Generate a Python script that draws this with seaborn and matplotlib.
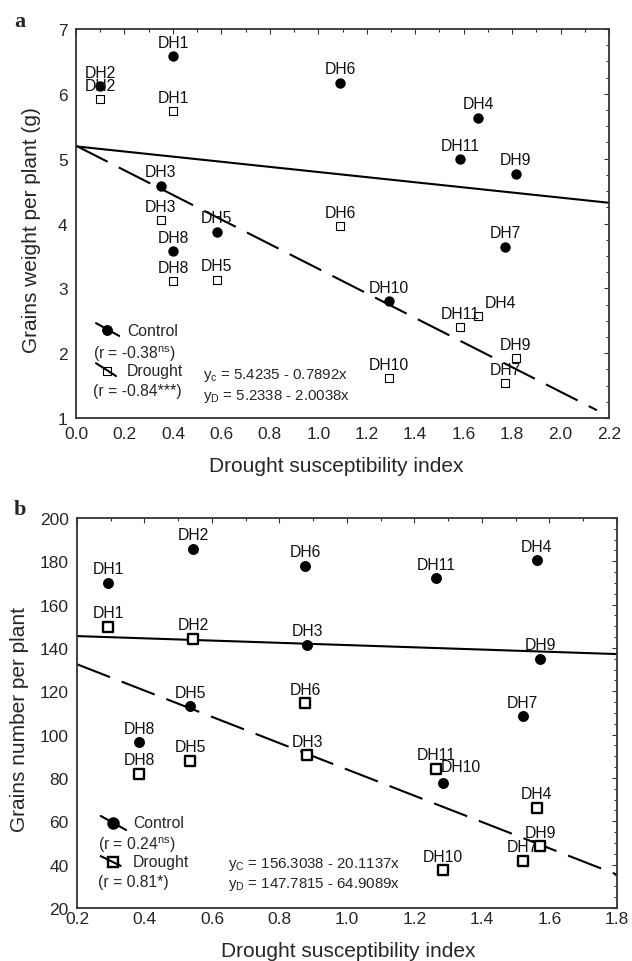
import matplotlib
matplotlib.use("Agg")
import matplotlib.pyplot as plt
from matplotlib.ticker import MultipleLocator, FormatStrFormatter
import seaborn as sns
import pandas as pd

# ---------------- data ----------------
lines_names = ["DH1", "DH2", "DH3", "DH4", "DH5", "DH6", "DH7", "DH8", "DH9", "DH10", "DH11"]

# panel a: grains weight per plant (g)
a_dsi = [0.40, 0.10, 0.35, 1.66, 0.58, 1.09, 1.77, 0.40, 1.815, 1.29, 1.585]
a_control = [6.58, 6.12, 4.58, 5.63, 3.87, 6.17, 3.64, 3.57, 4.77, 2.80, 4.99]
a_drought = [5.73, 5.92, 4.05, 2.58, 3.13, 3.96, 1.54, 3.11, 1.92, 1.61, 2.40]
a_fit_control_x = [0.0, 2.2]
a_fit_control_y = [5.19, 4.32]
a_fit_drought_x = [0.0, 2.15]
a_fit_drought_y = [5.20, 1.12]

# panel b: grains number per plant
b_dsi = [0.292, 0.544, 0.882, 1.563, 0.535, 0.876, 1.521, 0.384, 1.572, 1.284, 1.264]
b_control = [170.0, 185.7, 141.4, 180.6, 113.2, 177.9, 108.6, 96.6, 135.0, 77.7, 172.3]
b_drought = [149.7, 144.2, 90.6, 66.2, 87.9, 114.6, 41.7, 82.0, 48.6, 37.5, 84.3]
b_fit_control_x = [0.2, 1.8]
b_fit_control_y = [145.5, 137.2]
b_fit_drought_x = [0.2, 1.8]
b_fit_drought_y = [132.5, 35.4]

a_xticks = [0.0, 0.2, 0.4, 0.6, 0.8, 1.0, 1.2, 1.4, 1.6, 1.8, 2.0, 2.2]
a_yticks = [1, 2, 3, 4, 5, 6, 7]
b_xticks = [0.2, 0.4, 0.6, 0.8, 1.0, 1.2, 1.4, 1.6, 1.8]
b_yticks = [20, 40, 60, 80, 100, 120, 140, 160, 180, 200]

# ---------------- style ----------------
sns.set_style("white")
plt.rcParams["font.family"] = ["Liberation Sans", "DejaVu Sans"]
plt.rcParams["mathtext.fontset"] = "custom"
plt.rcParams["mathtext.rm"] = "Liberation Sans"
plt.rcParams["mathtext.it"] = "Liberation Sans"
plt.rcParams["mathtext.default"] = "regular"

fig = plt.figure(figsize=(6.32, 9.62), dpi=100)
ax1 = fig.add_axes([0.1203, 0.5644, 0.8434, 0.4044])
ax2 = fig.add_axes([0.1218, 0.0551, 0.8544, 0.4054])

PX = 72 / 100.0  # points per pixel


def draw_panel(ax, dsi, ctrl, drt, fcx, fcy, fdx, fdy, circ_s, sq_s, sq_lw,
               special_ctrl, special_drt):
    df = pd.DataFrame({"name": lines_names, "dsi": dsi, "control": ctrl, "drought": drt})
    sns.lineplot(x=fcx, y=fcy, ax=ax, color="black", lw=1.5, zorder=2)
    sns.lineplot(x=fdx, y=fdy, ax=ax, color="black", lw=1.5, zorder=2,
                 linestyle=(0, (17, 6)))
    sns.scatterplot(data=df, x="dsi", y="control", ax=ax, marker="o", s=circ_s,
                    color="black", edgecolor="black", linewidth=0, zorder=3)
    sns.scatterplot(data=df, x="dsi", y="drought", ax=ax, marker="s", s=sq_s,
                    color="white", edgecolor="black", linewidth=sq_lw, zorder=3)
    for _, r in df.iterrows():
        off = special_ctrl.get(r["name"], (0, 14))
        ax.annotate(r["name"], (r["dsi"], r["control"]), xytext=(off[0] * PX, off[1] * PX),
                    textcoords="offset points", ha="center", va="center",
                    fontsize=11.3, color="#111111", zorder=4)
        off = special_drt.get(r["name"], (0, 14))
        ax.annotate(r["name"], (r["dsi"], r["drought"]), xytext=(off[0] * PX, off[1] * PX),
                    textcoords="offset points", ha="center", va="center",
                    fontsize=11.3, color="#111111", zorder=4)


draw_panel(ax1, a_dsi, a_control, a_drought, a_fit_control_x, a_fit_control_y,
           a_fit_drought_x, a_fit_drought_y, 56, 36, 0.8, {}, {"DH4": (22, 13)})
draw_panel(ax2, b_dsi, b_control, b_drought, b_fit_control_x, b_fit_control_y,
           b_fit_drought_x, b_fit_drought_y, 62, 44, 1.7, {"DH10": (18, 16)}, {})

# axes formatting
for ax, xt, yt, xmin, ymin, xfmt, ypad, xpad in [
        (ax1, a_xticks, a_yticks, 0.1, 0.25, "%.1f", 6, 6),
        (ax2, b_xticks, b_yticks, 0.1, 5, "%.1f", 6, 2)]:
    ax.set_xlim(xt[0], xt[-1])
    ax.set_ylim(yt[0], yt[-1])
    ax.set_xticks(xt)
    ax.set_yticks(yt)
    ax.xaxis.set_major_formatter(FormatStrFormatter(xfmt))
    ax.xaxis.set_minor_locator(MultipleLocator(xmin))
    ax.yaxis.set_minor_locator(MultipleLocator(ymin))
    ax.tick_params(which="both", direction="in", top=True, right=True,
                   color="#333333", width=0.8)
    ax.tick_params(which="major", length=3.5)
    ax.tick_params(which="minor", length=2.5)
    ax.tick_params(axis="x", which="major", labelsize=12.5, pad=xpad)
    ax.tick_params(axis="y", which="major", labelsize=12.5, pad=ypad)
    for sp in ax.spines.values():
        sp.set_color("#333333")
        sp.set_linewidth(1.3)
    ax.set_xlabel("Drought susceptibility index", fontsize=15)

ax1.set_ylabel("Grains weight per plant (g)", fontsize=15)
ax2.set_ylabel("Grains number per plant", fontsize=15)
ax1.xaxis.set_label_coords(0.489, -0.123)
ax2.xaxis.set_label_coords(0.503, -0.108)
ax1.yaxis.set_label_coords(-0.083, 0.486)
ax2.yaxis.set_label_coords(-0.106, 0.485)
for ax in (ax1, ax2):
    ax.xaxis.label.set_verticalalignment("center")
    ax.yaxis.label.set_verticalalignment("center")


def legend_block(ax, circ, cline, ctext, rtext1, sq, dline, dtext, rtext2,
                 eqx, eq1y, eq2y, eq1, eq2, circ_ms, sq_ms, sq_lw):
    t = ax.transAxes
    ax.plot(cline[0], cline[1], color="black", lw=1.5, transform=t, zorder=5)
    ax.plot([circ[0]], [circ[1]], marker="o", ms=circ_ms, color="black", transform=t, zorder=6)
    ax.text(ctext[0], ctext[1], "Control", transform=t, fontsize=11.3, va="center", ha="left")
    ax.text(rtext1[0], rtext1[1][0], rtext1[1][1], transform=t, fontsize=11.3, va="center", ha="left")
    ax.plot([sq[0]], [sq[1]], marker="s", ms=sq_ms, mfc="white", mec="black", mew=sq_lw,
            transform=t, zorder=5)
    ax.plot(dline[0], dline[1], color="black", lw=1.5, transform=t, zorder=6)
    ax.text(dtext[0], dtext[1], "Drought", transform=t, fontsize=11.3, va="center", ha="left")
    ax.text(rtext2[0], rtext2[1][0], rtext2[1][1], transform=t, fontsize=11.3, va="center", ha="left")
    ax.text(eqx, eq1y, eq1, transform=t, fontsize=10.8, va="center", ha="left")
    ax.text(eqx, eq2y, eq2, transform=t, fontsize=10.8, va="center", ha="left")


legend_block(ax1,
             (0.058, 0.226), ([0.0375, 0.081], [0.244, 0.211]), (0.096, 0.226),
             (0.032, (0.167, r"(r = -0.38$^{\mathrm{ns}}$)")),
             (0.058, 0.121), ([0.0375, 0.075], [0.141, 0.108]), (0.096, 0.121),
             (0.032, (0.072, "(r = -0.84***)")),
             0.238, 0.111, 0.059,
             r"y$_{\mathrm{c}}$ = 5.4235 - 0.7892x", r"y$_{\mathrm{D}}$ = 5.2338 - 2.0038x",
             6.8, 6.2, 0.8)
legend_block(ax2,
             (0.0667, 0.218), ([0.044, 0.091], [0.236, 0.200]), (0.104, 0.218),
             (0.039, (0.164, r"(r = 0.24$^{\mathrm{ns}}$)")),
             (0.0667, 0.118), ([0.044, 0.081], [0.133, 0.108]), (0.104, 0.118),
             (0.039, (0.067, "(r = 0.81*)")),
             0.28, 0.115, 0.062,
             r"y$_{\mathrm{C}}$ = 156.3038 - 20.1137x", r"y$_{\mathrm{D}}$ = 147.7815 - 64.9089x",
             8, 7, 1.7)

fig.text(14 / 632, 1 - 22 / 962, "a", fontsize=16, fontweight="bold",
         family="Liberation Serif", va="center", ha="left")
fig.text(14 / 632, 1 - 510 / 962, "b", fontsize=16, fontweight="bold",
         family="Liberation Serif", va="center", ha="left")

fig.savefig("out.png", dpi=100)
